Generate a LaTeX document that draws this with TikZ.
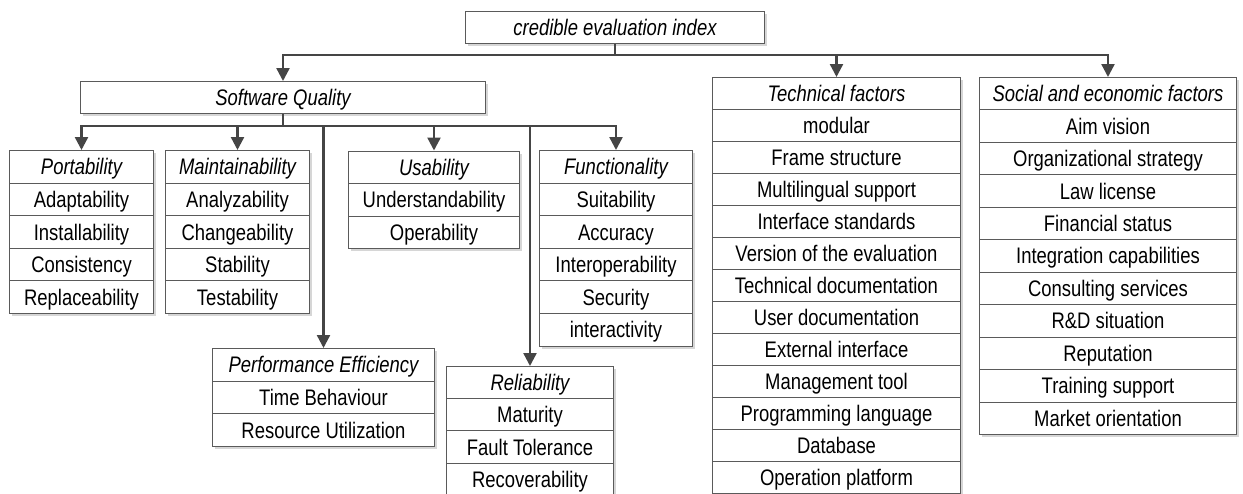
\documentclass[tikz,border=0pt]{standalone}
\usepackage{fontspec}
\setmainfont[FakeStretch=0.82]{Liberation Sans}
\usetikzlibrary{arrows.meta,calc}
\definecolor{linec}{HTML}{454545}
\definecolor{boxc}{HTML}{5A5A5A}
\definecolor{shadc}{HTML}{D6D6D6}

\tikzset{
  cell/.style={draw=boxc, line width=1pt, fill=white, inner sep=0pt,
    anchor=north west, font=\fontsize{22.5}{24}\selectfont, text=black,
    text height=16pt, text depth=0pt},
  conn/.style={draw=linec, line width=2.4pt},
  arr/.style={conn, -{Triangle[width=13pt,length=13pt]}},
}

% #1 name, #2 left, #3 top, #4 right, #5 row height, #6 rows, #7 labels
\newcommand\cellgroup[7]{%
  \pgfmathsetmacro\cgw{#4-#2}%
  \pgfmathsetmacro\cgb{#3+#6*#5}%
  \fill[shadc] (#2+3,#3+3) rectangle (#4+3,\cgb+3);
  \foreach \t [count=\i from 0] in {#7}{%
    \node[cell, minimum width=\cgw pt, minimum height=#5 pt] (#1-\i)
      at (#2,{#3+\i*#5}) {\ifnum\i=0 \itshape\fi\t};
  }%
}

\begin{document}
\begin{tikzpicture}[x=1pt,y=-1pt]
\useasboundingbox (0,0) rectangle (1243,493);
\clip (0,0) rectangle (1243,493);

% root and second level
\cellgroup{top}{465}{11}{764}{32}{1}{credible evaluation index}
\cellgroup{sq}{80}{81}{485}{32}{1}{Software Quality}

% software quality characteristics
\cellgroup{port}{9}{150}{153}{32.6}{5}{Portability,Adaptability,Installability,Consistency,Replaceability}
\cellgroup{maint}{165}{150}{309}{32.6}{5}{Maintainability,Analyzability,Changeability,Stability,Testability}
\cellgroup{usab}{348}{150.5}{519}{32.5}{3}{Usability,Understandability,Operability}
\cellgroup{func}{539}{150}{692}{32.6}{6}{Functionality,Suitability,Accuracy,Interoperability,Security,interactivity}
\cellgroup{perf}{212}{348}{434}{32.7}{3}{Performance Efficiency,Time Behaviour,Resource Utilization}
\cellgroup{rel}{446}{366}{613}{32.2}{4}{Reliability,Maturity,Fault Tolerance,Recoverability}

% technical and social factors
\cellgroup{tech}{712}{77}{960}{32}{13}{Technical factors,modular,Frame structure,Multilingual support,Interface standards,Version of the evaluation,Technical documentation,User documentation,External interface,Management tool,Programming language,Database,Operation platform}
\cellgroup{soc}{979}{77}{1236}{32.45}{11}{Social and economic factors,Aim vision,Organizational strategy,Law license,Financial status,Integration capabilities,Consulting services,R\&D situation,Reputation,Training support,Market orientation}

% first-level bus
\coordinate (busA) at ($(top-0.south |- 0,55)$);
\draw[conn] (top-0.south) -- (busA);
\draw[arr] (busA) -| (sq-0.north);
\draw[arr] (busA) -| (tech-0.north);
\draw[arr] (busA) -| (soc-0.north);

% software quality bus
\coordinate (busB) at ($(sq-0.south |- 0,126)$);
\draw[conn] (sq-0.south) -- (busB);
\draw[arr] (busB) -| (port-0.north);
\draw[arr] (busB) -| (maint-0.north);
\draw[arr] (busB) -| (usab-0.north);
\draw[arr] (busB) -| (func-0.north);
\draw[arr] (busB) -| (perf-0.north);
\draw[arr] (busB) -| (rel-0.north);
\end{tikzpicture}
\end{document}
